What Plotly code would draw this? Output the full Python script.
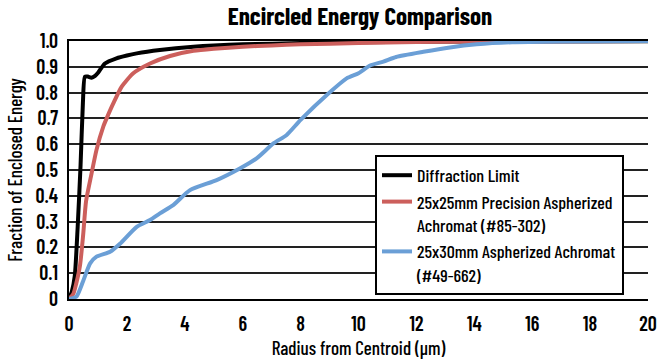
import plotly.graph_objects as go

# Diffraction limit
dl_x = [0, 0.1, 0.2, 0.3, 0.4, 0.48, 0.55, 0.65, 0.78, 0.9, 1.01, 1.24, 1.64, 2.0, 2.34, 3.14, 4.3, 5.0, 6.0, 8.0, 10.0, 12.0, 15.0, 20.0]
dl_y = [0, 0.03, 0.09, 0.28, 0.52, 0.76, 0.862, 0.862, 0.858, 0.865, 0.878, 0.913, 0.933, 0.944, 0.952, 0.965, 0.978, 0.983, 0.987, 0.992, 0.995, 0.997, 0.998, 0.999]

# 25x25mm Precision Aspherized Achromat (#85-302)
pa_x = [0, 0.15, 0.25, 0.38, 0.49, 0.59, 0.78, 0.95, 1.19, 1.3, 1.53, 1.82, 2.22, 2.8, 3.49, 4.3, 5.0, 6.0, 7.0, 8.0, 10.0, 12.0, 14.0, 20.0]
pa_y = [0, 0.02, 0.06, 0.13, 0.25, 0.38, 0.487, 0.578, 0.67, 0.7, 0.758, 0.823, 0.875, 0.913, 0.942, 0.962, 0.97, 0.978, 0.983, 0.987, 0.992, 0.996, 0.998, 1.0]

# 25x30mm Aspherized Achromat (#49-662)
aa_x = [0, 0.26, 0.49, 0.73, 0.95, 1.42, 1.76, 2.34, 2.8, 3.14, 3.6, 4.18, 5.1, 5.9, 6.48, 7.06, 7.52, 8.0, 9.0, 9.59, 10.0, 10.4, 10.86, 11.3, 12.24, 13.16, 14.08, 15.3, 17.0, 20.0]
aa_y = [0, 0.01, 0.07, 0.138, 0.164, 0.183, 0.214, 0.28, 0.306, 0.332, 0.364, 0.422, 0.461, 0.506, 0.545, 0.603, 0.636, 0.694, 0.8, 0.855, 0.875, 0.905, 0.92, 0.938, 0.958, 0.975, 0.987, 0.995, 0.998, 1.0]

x_ticks = [0, 2, 4, 6, 8, 10, 12, 14, 16, 18, 20]
y_ticks = [0, 0.1, 0.2, 0.3, 0.4, 0.5, 0.6, 0.7, 0.8, 0.9, 1.0]
y_tick_labels = ["0", "0.1", "0.2", "0.3", "0.4", "0.5", "0.6", "0.7", "0.8", "0.9", "1.0"]

FONT = "Barlow Condensed, Archivo Narrow, DejaVu Sans Condensed, sans-serif"

fig = go.Figure()
fig.add_trace(go.Scatter(x=dl_x, y=dl_y, mode="lines", name="Diffraction Limit",
                         line=dict(color="#000000", width=4, shape="spline", smoothing=0.6)))
fig.add_trace(go.Scatter(x=pa_x, y=pa_y, mode="lines", name="25x25mm Precision Aspherized<br>Achromat (#85-302)",
                         line=dict(color="#cc5f5c", width=4, shape="spline", smoothing=0.6)))
fig.add_trace(go.Scatter(x=aa_x, y=aa_y, mode="lines", name="25x30mm Aspherized Achromat<br>(#49-662)",
                         line=dict(color="#6b9fd6", width=4, shape="spline", smoothing=0.6)))

fig.update_layout(
    width=658, height=359,
    margin=dict(l=69, r=10, t=41, b=60, autoexpand=False),
    paper_bgcolor="white", plot_bgcolor="white",
    font=dict(family=FONT, color="#000000", size=18, weight=500),
    title=dict(text="Encircled Energy Comparison", x=360 / 658, xanchor="center",
               xref="container", yref="container", y=1 - 16 / 359, yanchor="middle",
               font=dict(size=25, family=FONT, weight=700)),
    showlegend=True,
    legend=dict(x=(375 - 69) / 579, y=(299 - 155) / 258, xanchor="left", yanchor="top",
                bgcolor="white", bordercolor="#000000", borderwidth=2,
                font=dict(size=18, family=FONT, weight=500), tracegroupgap=4,
                valign="top", itemwidth=30),
    xaxis=dict(range=[0, 20], tickvals=x_ticks, showgrid=False,
               showline=True, linecolor="#000000", linewidth=2, mirror=True,
               ticks="", tickfont=dict(size=20, family=FONT, weight=600),
               ticklabelstandoff=6, ticklabeloverflow="allow", automargin=False,
               title=dict(text="Radius from Centroid (µm)", font=dict(size=19, family=FONT, weight=500), standoff=8),
               zeroline=False),
    yaxis=dict(range=[0, 1.0], tickvals=y_ticks, ticktext=y_tick_labels,
               showgrid=True, gridcolor="#222222", gridwidth=2,
               showline=True, linecolor="#000000", linewidth=2,
               ticks="", tickfont=dict(size=20, family=FONT, weight=600),
               ticklabelstandoff=5, automargin=False,
               title=dict(text="Fraction of Enclosed Energy", font=dict(size=19, family=FONT, weight=500), standoff=8),
               zeroline=False),
)

fig.write_html("out.html", config={"displayModeBar": False},
               post_script="document.body.style.margin='0';document.body.style.overflow='hidden';")
